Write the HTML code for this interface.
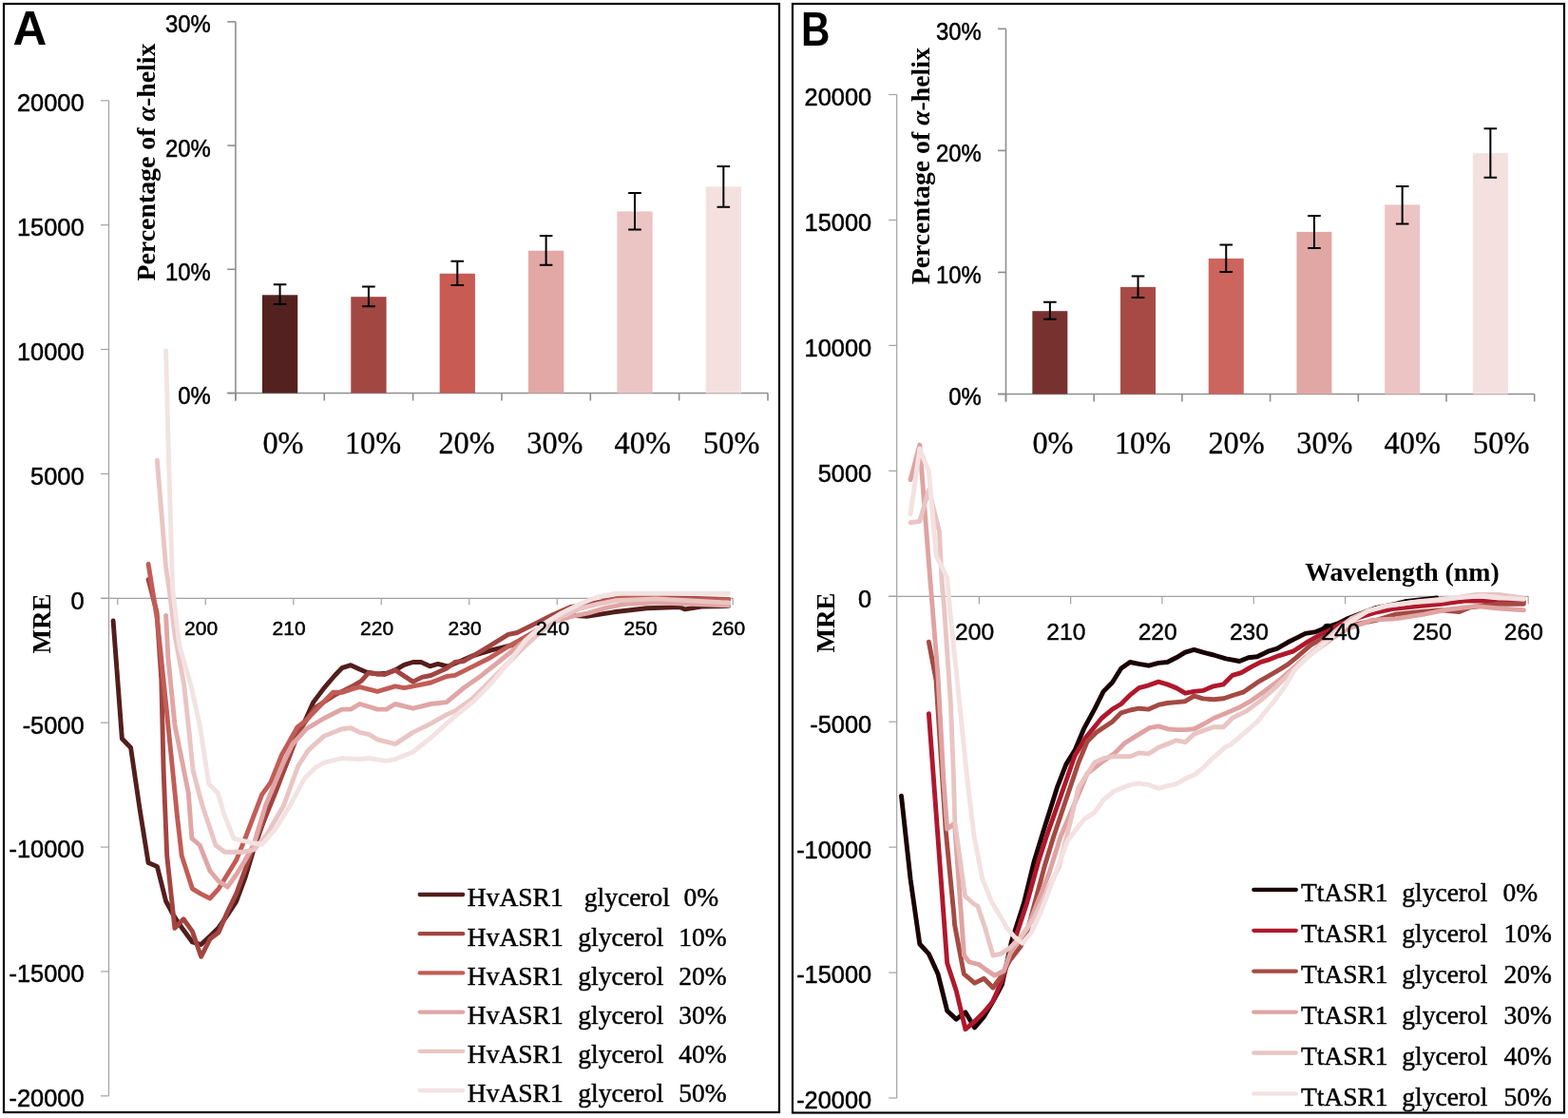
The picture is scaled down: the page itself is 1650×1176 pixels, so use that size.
<!DOCTYPE html><html><head><meta charset="utf-8"><title>CD spectra</title><style>html,body{margin:0;padding:0;background:#fff;}svg{display:block;}</style></head><body>
<svg width="1650" height="1176" viewBox="0 0 1650 1176">
<rect x="0" y="0" width="1650" height="1176" fill="#fff"/>
<rect x="4" y="4" width="816" height="1166" fill="none" stroke="#000" stroke-width="2.2"/>
<line x1="114.5" y1="105.8" x2="114.5" y2="1152.8" stroke="#a2a2a2" stroke-width="1.2"/>
<line x1="106" y1="105.8" x2="114.5" y2="105.8" stroke="#a2a2a2" stroke-width="1.2"/>
<line x1="106" y1="236.68" x2="114.5" y2="236.68" stroke="#a2a2a2" stroke-width="1.2"/>
<line x1="106" y1="367.55" x2="114.5" y2="367.55" stroke="#a2a2a2" stroke-width="1.2"/>
<line x1="106" y1="498.43" x2="114.5" y2="498.43" stroke="#a2a2a2" stroke-width="1.2"/>
<line x1="106" y1="629.3" x2="114.5" y2="629.3" stroke="#a2a2a2" stroke-width="1.2"/>
<line x1="106" y1="760.17" x2="114.5" y2="760.17" stroke="#a2a2a2" stroke-width="1.2"/>
<line x1="106" y1="891.05" x2="114.5" y2="891.05" stroke="#a2a2a2" stroke-width="1.2"/>
<line x1="106" y1="1021.92" x2="114.5" y2="1021.92" stroke="#a2a2a2" stroke-width="1.2"/>
<line x1="106" y1="1152.8" x2="114.5" y2="1152.8" stroke="#a2a2a2" stroke-width="1.2"/>
<line x1="106" y1="629.3" x2="771.25" y2="629.3" stroke="#a2a2a2" stroke-width="1.2"/>
<line x1="123.75" y1="629.3" x2="123.75" y2="636.3" stroke="#a2a2a2" stroke-width="1.2"/>
<line x1="216.25" y1="629.3" x2="216.25" y2="636.3" stroke="#a2a2a2" stroke-width="1.2"/>
<line x1="308.75" y1="629.3" x2="308.75" y2="636.3" stroke="#a2a2a2" stroke-width="1.2"/>
<line x1="401.25" y1="629.3" x2="401.25" y2="636.3" stroke="#a2a2a2" stroke-width="1.2"/>
<line x1="493.75" y1="629.3" x2="493.75" y2="636.3" stroke="#a2a2a2" stroke-width="1.2"/>
<line x1="586.25" y1="629.3" x2="586.25" y2="636.3" stroke="#a2a2a2" stroke-width="1.2"/>
<line x1="678.75" y1="629.3" x2="678.75" y2="636.3" stroke="#a2a2a2" stroke-width="1.2"/>
<line x1="771.25" y1="629.3" x2="771.25" y2="636.3" stroke="#a2a2a2" stroke-width="1.2"/>
<line x1="247.9" y1="22.9" x2="247.9" y2="421.5" stroke="#8e8e8e" stroke-width="1.6"/>
<line x1="239.3" y1="413.5" x2="808" y2="413.5" stroke="#8e8e8e" stroke-width="1.6"/>
<line x1="239.3" y1="22.9" x2="247.9" y2="22.9" stroke="#8e8e8e" stroke-width="1.6"/>
<line x1="239.3" y1="153.1" x2="247.9" y2="153.1" stroke="#8e8e8e" stroke-width="1.6"/>
<line x1="239.3" y1="283.3" x2="247.9" y2="283.3" stroke="#8e8e8e" stroke-width="1.6"/>
<line x1="239.3" y1="413.5" x2="247.9" y2="413.5" stroke="#8e8e8e" stroke-width="1.6"/>
<line x1="247.9" y1="413.5" x2="247.9" y2="421.5" stroke="#8e8e8e" stroke-width="1.6"/>
<line x1="341.25" y1="413.5" x2="341.25" y2="421.5" stroke="#8e8e8e" stroke-width="1.6"/>
<line x1="434.6" y1="413.5" x2="434.6" y2="421.5" stroke="#8e8e8e" stroke-width="1.6"/>
<line x1="527.95" y1="413.5" x2="527.95" y2="421.5" stroke="#8e8e8e" stroke-width="1.6"/>
<line x1="621.3" y1="413.5" x2="621.3" y2="421.5" stroke="#8e8e8e" stroke-width="1.6"/>
<line x1="714.65" y1="413.5" x2="714.65" y2="421.5" stroke="#8e8e8e" stroke-width="1.6"/>
<line x1="808" y1="413.5" x2="808" y2="421.5" stroke="#8e8e8e" stroke-width="1.6"/>
<rect x="275.93" y="310.3" width="37.3" height="103.2" fill="#532220"/>
<rect x="369.28" y="312.2" width="37.3" height="101.3" fill="#A34743"/>
<rect x="462.63" y="287.8" width="37.3" height="125.7" fill="#C85B54"/>
<rect x="555.98" y="263.7" width="37.3" height="149.8" fill="#E2A8A6"/>
<rect x="649.33" y="222.4" width="37.3" height="191.1" fill="#EBC5C4"/>
<rect x="742.68" y="196.3" width="37.3" height="217.2" fill="#F4E1DF"/>
<path d="M287.77 299.3H301.38M294.57 299.3V320M287.77 320H301.38" stroke="#000" stroke-width="2" fill="none"/>
<path d="M381.12 301.6H394.73M387.93 301.6V322.3M381.12 322.3H394.73" stroke="#000" stroke-width="2" fill="none"/>
<path d="M474.48 274.8H488.08M481.28 274.8V300M474.48 300H488.08" stroke="#000" stroke-width="2" fill="none"/>
<path d="M567.83 247.9H581.42M574.62 247.9V278.7M567.83 278.7H581.42" stroke="#000" stroke-width="2" fill="none"/>
<path d="M661.18 202.9H674.77M667.98 202.9V241.5M661.18 241.5H674.77" stroke="#000" stroke-width="2" fill="none"/>
<path d="M754.53 174.9H768.12M761.33 174.9V217.8M754.53 217.8H768.12" stroke="#000" stroke-width="2" fill="none"/>
<path d="M119.1 653 L128.4 777 L137.6 786.5 L146.9 850 L156.1 907.6 L165.4 911.4 L174.6 948 L183.9 965 L193.1 978.3 L202.4 991 L211.6 993.6 L220.9 984.7 L230.1 975.7 L239.4 962.3 L248.6 948.3 L257.9 923.5 L267.1 893 L288.7 832.2 L301.8 802.2 L311.1 777.9 L320.5 759.2 L329.8 738.6 L341.1 723.6 L352.3 710.5 L359.8 702.7 L369.1 699.7 L378.5 704 L386 707.2 L397.2 709 L406.6 708.3 L415.9 704.9 L425.3 699.3 L434.6 696.5 L443.1 696.5 L452.4 700.8 L460.8 698.4 L471.2 701 L484.3 695.5 L497.4 689.8 L516.1 684.2 L538.6 678.6 L548 673 L564.8 663.6 L572.3 656.1 L581.7 650.5 L594.8 646.8 L617.3 648.4 L646 643.8 L680.6 639.7 L715.2 638.6 L720.9 640.9 L738.2 638 L766.6 637.4" fill="none" stroke="#521E1C" stroke-width="4.9" stroke-linejoin="round" stroke-linecap="round"/>
<path d="M156.1 609.6 L165 643.8 L169.8 715.2 L172.1 810.5 L175.7 900 L183.9 976.4 L193.1 966.8 L202.4 979.6 L211.6 1006.3 L220.9 987.8 L230.1 980.8 L239.4 959 L248.6 940 L270.9 880 L290.5 832 L314.9 768.6 L331.7 744.2 L352.3 731.1 L371 721.8 L380.4 716.1 L387.9 707.7 L404.7 709.6 L415.9 704.9 L434.6 717.1 L444 712.4 L453.4 710.5 L470 703 L478.7 696.4 L488.1 695.5 L510.5 682.4 L534.9 667.4 L544.2 665.5 L562.9 656.1 L581.7 646.8 L600.4 638.4 L619.1 635.6 L647.2 629.9 L665.9 628.1 L690 628.1 L766.6 630.5" fill="none" stroke="#A24542" stroke-width="4.9" stroke-linejoin="round" stroke-linecap="round"/>
<path d="M156.1 593.3 L165.4 651.4 L174.5 739 L181.7 810.5 L186.4 858.1 L191.2 900 L202.4 934.8 L211.6 940.4 L220.9 945 L230.1 934.8 L239.4 919.8 L248.6 904.8 L258.7 880 L275.6 835.9 L284.9 822.8 L296.1 794.8 L313 764.8 L322.4 757.3 L350.4 728.3 L359.8 728.3 L371 724.6 L378.5 722.7 L397.2 727.4 L415.9 721.8 L425.3 723.6 L434.6 721.8 L453.4 718 L470 711.5 L478.7 710.4 L497.4 701.1 L516.1 691.7 L534.9 680 L553.6 670 L572.3 658 L591 648 L609.7 640 L628.4 635 L657.6 627.6 L680.6 627.6 L703.6 630 L749.7 631.1 L766.6 630.5" fill="none" stroke="#C25C56" stroke-width="4.9" stroke-linejoin="round" stroke-linecap="round"/>
<path d="M174.6 647.5 L176.9 691.4 L184 762.9 L191.2 798.6 L198.3 834.3 L201.9 881.9 L210.2 889 L220.9 916 L230.1 927 L239.4 933 L248.6 920 L257.9 905 L267.1 888 L279.5 847 L298.3 802.2 L307.4 783.5 L322.4 766.7 L341.1 755.5 L359.8 746.1 L369.1 746.1 L378.5 740.5 L397.2 746.1 L406.6 746.1 L415.9 740.5 L434.6 745.2 L453.4 740.5 L470 738.6 L488.1 723.5 L506.8 710.4 L525.5 695.5 L544.2 680.5 L562.9 665.5 L581.7 654.3 L600.4 648.7 L619.1 644.9 L637.8 639.3 L656.5 635.6 L690 633.7 L766.6 636.8" fill="none" stroke="#E0A6A5" stroke-width="4.9" stroke-linejoin="round" stroke-linecap="round"/>
<path d="M165.4 484.2 L174.6 597 L178.1 620 L184 667.6 L193.6 720 L198.3 762.9 L203.1 810.5 L212.6 846.2 L226.9 889 L236.4 896.2 L255.5 896.2 L267.5 893.6 L280.5 878 L298.6 847.2 L313.6 806 L324.4 789.1 L341.1 774.2 L359.8 766.7 L369.1 765.7 L378.5 770.4 L387.9 772.3 L397.2 777.9 L415.9 782.6 L434.6 770.4 L453.4 761.1 L470 751.7 L478.7 747.9 L497.4 734.8 L516.1 716 L534.9 697.3 L553.6 678.6 L572.3 661.8 L591 648.7 L609.7 640.2 L628.4 635.6 L647.2 631.8 L690 629.9 L766.6 634" fill="none" stroke="#E9C5C3" stroke-width="4.9" stroke-linejoin="round" stroke-linecap="round"/>
<path d="M174.6 369 L177.6 487.6 L181.7 620 L188.8 679.5 L200.7 720 L210.2 762.9 L219.8 824.8 L229.3 834.3 L236.4 858.1 L246 881.9 L265 886.7 L276 888 L290.5 871.1 L305.5 846.8 L320.5 818.7 L332.5 807 L341.1 802.2 L359.8 797.6 L378.5 798.5 L387.9 797.6 L406.6 800.4 L415.9 798.5 L434.6 791 L453.4 776 L470 761.1 L478.7 753.5 L497.4 738.5 L516.1 719.8 L534.9 697.3 L553.6 673 L572.3 656.1 L591 644.9 L609.7 635.6 L628.4 628.1 L647.2 624.3 L690 624.3 L766.6 624.2" fill="none" stroke="#F2E3E2" stroke-width="4.9" stroke-linejoin="round" stroke-linecap="round"/>
<line x1="441.7" y1="941" x2="487.20000000000005" y2="941" stroke="#521E1C" stroke-width="4.3" stroke-linecap="round"/>
<line x1="441.7" y1="982.2" x2="487.20000000000005" y2="982.2" stroke="#A24542" stroke-width="4.3" stroke-linecap="round"/>
<line x1="441.7" y1="1023.4" x2="487.20000000000005" y2="1023.4" stroke="#C25C56" stroke-width="4.3" stroke-linecap="round"/>
<line x1="441.7" y1="1064.6" x2="487.20000000000005" y2="1064.6" stroke="#E0A6A5" stroke-width="4.3" stroke-linecap="round"/>
<line x1="441.7" y1="1105.8" x2="487.20000000000005" y2="1105.8" stroke="#E9C5C3" stroke-width="4.3" stroke-linecap="round"/>
<line x1="441.7" y1="1147" x2="487.20000000000005" y2="1147" stroke="#F2E3E2" stroke-width="4.3" stroke-linecap="round"/>
<rect x="834" y="4" width="812" height="1166.5" fill="none" stroke="#000" stroke-width="2.2"/>
<line x1="943.7" y1="99.5" x2="943.7" y2="1155" stroke="#a2a2a2" stroke-width="1.2"/>
<line x1="935.3" y1="99.5" x2="943.7" y2="99.5" stroke="#a2a2a2" stroke-width="1.2"/>
<line x1="935.3" y1="231.44" x2="943.7" y2="231.44" stroke="#a2a2a2" stroke-width="1.2"/>
<line x1="935.3" y1="363.38" x2="943.7" y2="363.38" stroke="#a2a2a2" stroke-width="1.2"/>
<line x1="935.3" y1="495.31" x2="943.7" y2="495.31" stroke="#a2a2a2" stroke-width="1.2"/>
<line x1="935.3" y1="627.25" x2="943.7" y2="627.25" stroke="#a2a2a2" stroke-width="1.2"/>
<line x1="935.3" y1="759.19" x2="943.7" y2="759.19" stroke="#a2a2a2" stroke-width="1.2"/>
<line x1="935.3" y1="891.12" x2="943.7" y2="891.12" stroke="#a2a2a2" stroke-width="1.2"/>
<line x1="935.3" y1="1023.06" x2="943.7" y2="1023.06" stroke="#a2a2a2" stroke-width="1.2"/>
<line x1="935.3" y1="1155" x2="943.7" y2="1155" stroke="#a2a2a2" stroke-width="1.2"/>
<line x1="935.3" y1="627.3" x2="1608.17" y2="627.3" stroke="#a2a2a2" stroke-width="1.2"/>
<line x1="1030.37" y1="627.3" x2="1030.37" y2="635.3" stroke="#a2a2a2" stroke-width="1.2"/>
<line x1="1126.67" y1="627.3" x2="1126.67" y2="635.3" stroke="#a2a2a2" stroke-width="1.2"/>
<line x1="1222.97" y1="627.3" x2="1222.97" y2="635.3" stroke="#a2a2a2" stroke-width="1.2"/>
<line x1="1319.27" y1="627.3" x2="1319.27" y2="635.3" stroke="#a2a2a2" stroke-width="1.2"/>
<line x1="1415.57" y1="627.3" x2="1415.57" y2="635.3" stroke="#a2a2a2" stroke-width="1.2"/>
<line x1="1511.87" y1="627.3" x2="1511.87" y2="635.3" stroke="#a2a2a2" stroke-width="1.2"/>
<line x1="1608.17" y1="627.3" x2="1608.17" y2="635.3" stroke="#a2a2a2" stroke-width="1.2"/>
<line x1="1058.5" y1="30.3" x2="1058.5" y2="422.5" stroke="#8e8e8e" stroke-width="1.6"/>
<line x1="1050" y1="414.5" x2="1614.7" y2="414.5" stroke="#8e8e8e" stroke-width="1.6"/>
<line x1="1050" y1="30.3" x2="1058.5" y2="30.3" stroke="#8e8e8e" stroke-width="1.6"/>
<line x1="1050" y1="158.37" x2="1058.5" y2="158.37" stroke="#8e8e8e" stroke-width="1.6"/>
<line x1="1050" y1="286.43" x2="1058.5" y2="286.43" stroke="#8e8e8e" stroke-width="1.6"/>
<line x1="1050" y1="414.5" x2="1058.5" y2="414.5" stroke="#8e8e8e" stroke-width="1.6"/>
<line x1="1058.5" y1="414.5" x2="1058.5" y2="422.5" stroke="#8e8e8e" stroke-width="1.6"/>
<line x1="1151.2" y1="414.5" x2="1151.2" y2="422.5" stroke="#8e8e8e" stroke-width="1.6"/>
<line x1="1243.9" y1="414.5" x2="1243.9" y2="422.5" stroke="#8e8e8e" stroke-width="1.6"/>
<line x1="1336.6" y1="414.5" x2="1336.6" y2="422.5" stroke="#8e8e8e" stroke-width="1.6"/>
<line x1="1429.3" y1="414.5" x2="1429.3" y2="422.5" stroke="#8e8e8e" stroke-width="1.6"/>
<line x1="1522" y1="414.5" x2="1522" y2="422.5" stroke="#8e8e8e" stroke-width="1.6"/>
<line x1="1614.7" y1="414.5" x2="1614.7" y2="422.5" stroke="#8e8e8e" stroke-width="1.6"/>
<rect x="1086.35" y="327.2" width="37" height="87.3" fill="#773230"/>
<rect x="1179.05" y="301.9" width="37" height="112.6" fill="#A74A45"/>
<rect x="1271.75" y="271.9" width="37" height="142.6" fill="#CC655E"/>
<rect x="1364.45" y="243.9" width="37" height="170.6" fill="#E0A7A5"/>
<rect x="1457.15" y="215.4" width="37" height="199.1" fill="#EBC4C3"/>
<rect x="1549.85" y="161.1" width="37" height="253.4" fill="#F4E0DF"/>
<path d="M1098.05 317.7H1111.65M1104.85 317.7V335.7M1098.05 335.7H1111.65" stroke="#000" stroke-width="2" fill="none"/>
<path d="M1190.75 290.6H1204.35M1197.55 290.6V313M1190.75 313H1204.35" stroke="#000" stroke-width="2" fill="none"/>
<path d="M1283.45 257.6H1297.05M1290.25 257.6V286.1M1283.45 286.1H1297.05" stroke="#000" stroke-width="2" fill="none"/>
<path d="M1376.15 227H1389.75M1382.95 227V261M1376.15 261H1389.75" stroke="#000" stroke-width="2" fill="none"/>
<path d="M1468.85 195.9H1482.45M1475.65 195.9V235.4M1468.85 235.4H1482.45" stroke="#000" stroke-width="2" fill="none"/>
<path d="M1561.55 135.3H1575.15M1568.35 135.3V186.7M1561.55 186.7H1575.15" stroke="#000" stroke-width="2" fill="none"/>
<path d="M948.5 837.3 L958.1 925 L967.8 993 L977.4 1003.4 L987 1024.4 L996.7 1063.2 L1006.3 1072.1 L1015.9 1064.8 L1025.6 1081 L1035.2 1069.7 L1044.8 1053.5 L1054.4 1035.8 L1064.4 990.5 L1077.4 950 L1088.3 905.7 L1097.4 876 L1112.4 828.4 L1121.8 804.1 L1131.1 789.1 L1140.5 766.7 L1151.7 746.1 L1161.1 727.4 L1170.4 718 L1179.8 703 L1189.1 696.5 L1198.5 698.4 L1208.8 700.2 L1219.1 697.4 L1228.4 696.5 L1237.8 691.8 L1247.2 686.2 L1256.5 683.4 L1265.9 686.2 L1277.1 689 L1290 692.8 L1304.3 695.5 L1313.7 691.7 L1323 690.8 L1334.3 685.2 L1343.6 682.4 L1354.9 675.8 L1364.2 671.1 L1373.6 666.4 L1384.8 664.6 L1396 659.9 L1407.3 656.1 L1418.5 650.5 L1448.4 639.3 L1467.2 635.6 L1478.4 632.8 L1512 629" fill="none" stroke="#1A0203" stroke-width="4.9" stroke-linejoin="round" stroke-linecap="round"/>
<path d="M977.4 750.6 L996.7 1013.1 L1006.3 1042.2 L1015.9 1082.6 L1025.6 1074.5 L1035.2 1064.8 L1044.8 1053.5 L1054.4 1030.9 L1069.9 982.3 L1080.6 950 L1092.9 905.7 L1101.2 880 L1116.1 837.8 L1131.1 794.8 L1142.4 776 L1159.2 755.5 L1170.4 746.1 L1179.8 740.5 L1189.1 731.1 L1198.5 723.6 L1208.8 720.8 L1219.1 717.1 L1228.4 719.9 L1237.8 723.6 L1247.2 729.2 L1256.5 727.4 L1265.9 726.4 L1277.1 721.8 L1287.5 719.8 L1296.8 710.4 L1306.2 707.6 L1317.4 701.1 L1326.8 696.4 L1336.1 693.6 L1345.5 689.8 L1360.5 685.2 L1373.6 676.7 L1384.8 670.2 L1396 664.6 L1411 656.1 L1429.7 649.6 L1448.4 644 L1467.2 640.2 L1492.7 637.6 L1517 635.2 L1541.2 632.1 L1559.4 632.1 L1577.6 633.9 L1603.4 632.7" fill="none" stroke="#B0182C" stroke-width="4.9" stroke-linejoin="round" stroke-linecap="round"/>
<path d="M977.4 675.2 L985 715.2 L991.7 820 L995.2 873.6 L1003.6 960 L1004.6 972.7 L1014.3 1024.4 L1025.7 1034.1 L1035.4 1029.3 L1045 1039 L1053.1 1027.7 L1062.8 1009.9 L1074.1 995.4 L1080.6 980.8 L1099 911.8 L1108.7 880 L1134.9 802.2 L1144.2 779.8 L1153.6 770.4 L1170.4 759.2 L1179.8 749.8 L1189.1 747 L1198.5 745.2 L1208.8 746.1 L1219.1 741.4 L1228.4 739.5 L1237.8 738.6 L1247.2 737.7 L1256.5 732.1 L1265.9 734.9 L1277.1 735.8 L1287.5 734.8 L1298.7 731 L1308.1 728.2 L1323 717.9 L1336.1 710.4 L1345.5 704.8 L1354.9 699.2 L1364.2 691.7 L1379.2 678.6 L1392.3 671.1 L1411 661.8 L1429.7 656.1 L1448.4 652.4 L1468.5 646.1 L1492.7 643.6 L1517 641.8 L1535.2 643.6 L1547.3 638.8 L1577.6 635.2 L1603.4 635.2" fill="none" stroke="#A44A43" stroke-width="4.9" stroke-linejoin="round" stroke-linecap="round"/>
<path d="M958.1 504.6 L967.8 468 L977.4 592 L987 711 L992.9 820 L996.7 872 L1004.5 866 L1014.5 1005 L1020 1012 L1030.5 1014.7 L1037 1019.6 L1046.7 1026.1 L1056.4 1021.2 L1062.8 1003.4 L1070.9 990.5 L1080.6 977.6 L1103.6 919.5 L1116.1 880 L1144.2 813.5 L1161.1 800.4 L1172.3 792.9 L1183.5 781.7 L1198.5 772.3 L1209.7 765.7 L1219.1 763.9 L1228.4 766.7 L1237.8 767.6 L1247.2 767.6 L1256.5 766.7 L1265.9 762 L1277.1 755.5 L1291.2 749.7 L1304.3 744.1 L1317.4 736.6 L1330.5 727.3 L1345.5 716 L1358.6 704.8 L1373.6 691.7 L1386.7 682.4 L1399.8 673 L1411 665.5 L1420 660.6 L1444.2 652.1 L1468.5 650.9 L1498.8 646.1 L1523 641.2 L1553.3 637.6 L1577.6 640 L1603.4 641.8" fill="none" stroke="#DFA3A2" stroke-width="4.9" stroke-linejoin="round" stroke-linecap="round"/>
<path d="M958.1 549.7 L967.8 548.4 L977.4 515.3 L988.5 559 L991 610 L993.6 640 L1000.4 740 L1003.6 820 L1004.8 865 L1015.5 942.6 L1025 951 L1028.9 953.3 L1037 977.6 L1045 1005 L1053.1 1003.4 L1062.8 997 L1074.1 985.7 L1088.3 965.4 L1114.3 911.8 L1125 870 L1134.9 828.4 L1151.7 802.2 L1161.1 797.6 L1172.3 795.7 L1189.1 795.7 L1198.5 791.9 L1208.8 792.9 L1219.1 786.3 L1228.4 782.6 L1237.8 778.8 L1247.2 780.7 L1256.5 772.3 L1265.9 768.6 L1277.1 764.8 L1287.5 764.7 L1296.8 755.3 L1311.8 747.9 L1326.8 736.6 L1341.8 723.5 L1358.6 706.7 L1388.6 678.6 L1403.5 665.5 L1422.2 650.5 L1441 642.1 L1459.7 637.4 L1485.9 633.7 L1517 631.5 L1553.3 625.5 L1577.6 625.5 L1603.4 629.1" fill="none" stroke="#E8C5C3" stroke-width="4.9" stroke-linejoin="round" stroke-linecap="round"/>
<path d="M958.1 540.8 L967.8 472 L977.4 496 L985.1 584.6 L996.7 607.5 L999.5 640 L1009.7 740 L1017.9 820 L1025 879.5 L1033.7 924.2 L1043.4 948.5 L1053.1 964.6 L1059.6 976 L1067.7 985.7 L1075.8 992.1 L1085.5 980.8 L1095.9 957.8 L1123.5 884.3 L1140.5 862.1 L1151.7 854.6 L1161.1 841.5 L1172.3 832.2 L1189.1 825.6 L1198.5 823.8 L1208.8 825.6 L1219.1 829.4 L1228.4 826.6 L1237.8 824.7 L1247.2 819.1 L1256.5 815.3 L1265.9 807.9 L1277.1 796.6 L1290 785.4 L1295 783.4 L1308.1 772.2 L1323 759.1 L1339.9 738.5 L1351.1 723.5 L1362.4 704.8 L1373.6 693.6 L1386.7 682.4 L1420.4 654.3 L1439.1 643 L1457.8 637.4 L1492.7 632.7 L1529.1 629.1 L1559.4 626.7 L1583.6 629.1 L1603.4 630.3" fill="none" stroke="#F3E2E1" stroke-width="4.9" stroke-linejoin="round" stroke-linecap="round"/>
<line x1="1319.3000000000002" y1="935.9" x2="1363.8" y2="935.9" stroke="#1A0203" stroke-width="4.3" stroke-linecap="round"/>
<line x1="1319.3000000000002" y1="978.8" x2="1363.8" y2="978.8" stroke="#B0182C" stroke-width="4.3" stroke-linecap="round"/>
<line x1="1319.3000000000002" y1="1021.7" x2="1363.8" y2="1021.7" stroke="#A44A43" stroke-width="4.3" stroke-linecap="round"/>
<line x1="1319.3000000000002" y1="1064.6" x2="1363.8" y2="1064.6" stroke="#DFA3A2" stroke-width="4.3" stroke-linecap="round"/>
<line x1="1319.3000000000002" y1="1107.5" x2="1363.8" y2="1107.5" stroke="#E8C5C3" stroke-width="4.3" stroke-linecap="round"/>
<line x1="1319.3000000000002" y1="1150.4" x2="1363.8" y2="1150.4" stroke="#F3E2E1" stroke-width="4.3" stroke-linecap="round"/>
<text x="13.5" y="46.7" font-family="'Liberation Sans', Arial, sans-serif" font-weight="bold" font-size="49.5">A</text>
<text x="88.6" y="117.19" text-anchor="end" font-family="'Liberation Sans', Arial, sans-serif" font-size="25.4" stroke="#000" stroke-width="0.5">20000</text>
<text x="88.6" y="248.07" text-anchor="end" font-family="'Liberation Sans', Arial, sans-serif" font-size="25.4" stroke="#000" stroke-width="0.5">15000</text>
<text x="88.6" y="378.94" text-anchor="end" font-family="'Liberation Sans', Arial, sans-serif" font-size="25.4" stroke="#000" stroke-width="0.5">10000</text>
<text x="88.6" y="509.82" text-anchor="end" font-family="'Liberation Sans', Arial, sans-serif" font-size="25.4" stroke="#000" stroke-width="0.5">5000</text>
<text x="88.6" y="640.69" text-anchor="end" font-family="'Liberation Sans', Arial, sans-serif" font-size="25.4" stroke="#000" stroke-width="0.5">0</text>
<text x="88.6" y="771.57" text-anchor="end" font-family="'Liberation Sans', Arial, sans-serif" font-size="25.4" stroke="#000" stroke-width="0.5">-5000</text>
<text x="88.6" y="902.44" text-anchor="end" font-family="'Liberation Sans', Arial, sans-serif" font-size="25.4" stroke="#000" stroke-width="0.5">-10000</text>
<text x="88.6" y="1033.32" text-anchor="end" font-family="'Liberation Sans', Arial, sans-serif" font-size="25.4" stroke="#000" stroke-width="0.5">-15000</text>
<text x="88.6" y="1164.19" text-anchor="end" font-family="'Liberation Sans', Arial, sans-serif" font-size="25.4" stroke="#000" stroke-width="0.5">-20000</text>
<text x="211.62" y="667.5" text-anchor="middle" font-family="'Liberation Sans', Arial, sans-serif" font-size="21" stroke="#000" stroke-width="0.45">200</text>
<text x="304.12" y="667.5" text-anchor="middle" font-family="'Liberation Sans', Arial, sans-serif" font-size="21" stroke="#000" stroke-width="0.45">210</text>
<text x="396.62" y="667.5" text-anchor="middle" font-family="'Liberation Sans', Arial, sans-serif" font-size="21" stroke="#000" stroke-width="0.45">220</text>
<text x="489.12" y="667.5" text-anchor="middle" font-family="'Liberation Sans', Arial, sans-serif" font-size="21" stroke="#000" stroke-width="0.45">230</text>
<text x="581.62" y="667.5" text-anchor="middle" font-family="'Liberation Sans', Arial, sans-serif" font-size="21" stroke="#000" stroke-width="0.45">240</text>
<text x="674.12" y="667.5" text-anchor="middle" font-family="'Liberation Sans', Arial, sans-serif" font-size="21" stroke="#000" stroke-width="0.45">250</text>
<text x="766.62" y="667.5" text-anchor="middle" font-family="'Liberation Sans', Arial, sans-serif" font-size="21" stroke="#000" stroke-width="0.45">260</text>
<text transform="translate(53,656) rotate(-90)" text-anchor="middle" font-family="'Liberation Serif', 'Times New Roman', serif" font-weight="bold" font-size="27">MRE</text>
<text transform="translate(221.7,34.35) scale(0.955,1)" text-anchor="end" font-family="'Liberation Sans', Arial, sans-serif" font-size="25" stroke="#000" stroke-width="0.5">30%</text>
<text transform="translate(221.7,164.55) scale(0.955,1)" text-anchor="end" font-family="'Liberation Sans', Arial, sans-serif" font-size="25" stroke="#000" stroke-width="0.5">20%</text>
<text transform="translate(221.7,294.75) scale(0.955,1)" text-anchor="end" font-family="'Liberation Sans', Arial, sans-serif" font-size="25" stroke="#000" stroke-width="0.5">10%</text>
<text transform="translate(221.7,424.95) scale(0.955,1)" text-anchor="end" font-family="'Liberation Sans', Arial, sans-serif" font-size="25" stroke="#000" stroke-width="0.5">0%</text>
<text transform="translate(276.4,476.5) scale(0.965,1)" font-family="'Liberation Serif', 'Times New Roman', serif" font-size="33.5" stroke="#000" stroke-width="0.35">0%</text>
<text transform="translate(362.9,476.5) scale(0.965,1)" font-family="'Liberation Serif', 'Times New Roman', serif" font-size="33.5" stroke="#000" stroke-width="0.35">10%</text>
<text transform="translate(461.4,476.5) scale(0.965,1)" font-family="'Liberation Serif', 'Times New Roman', serif" font-size="33.5" stroke="#000" stroke-width="0.35">20%</text>
<text transform="translate(554.3,476.5) scale(0.965,1)" font-family="'Liberation Serif', 'Times New Roman', serif" font-size="33.5" stroke="#000" stroke-width="0.35">30%</text>
<text transform="translate(646.6,476.5) scale(0.965,1)" font-family="'Liberation Serif', 'Times New Roman', serif" font-size="33.5" stroke="#000" stroke-width="0.35">40%</text>
<text transform="translate(740.1,476.5) scale(0.965,1)" font-family="'Liberation Serif', 'Times New Roman', serif" font-size="33.5" stroke="#000" stroke-width="0.35">50%</text>
<text transform="translate(162.9,295.5) rotate(-90)" font-family="'Liberation Serif', 'Times New Roman', serif" font-weight="bold" font-size="27.5" textLength="249.9" lengthAdjust="spacingAndGlyphs">Percentage of <tspan font-style="italic">α</tspan>-helix</text>
<text x="491.8" y="953.4" font-family="'Liberation Serif', 'Times New Roman', serif" font-size="27.5" stroke="#000" stroke-width="0.45">HvASR1</text>
<text x="614.8" y="953.4" font-family="'Liberation Serif', 'Times New Roman', serif" font-size="27.5" stroke="#000" stroke-width="0.45">glycerol</text>
<text x="719.6" y="953.4" font-family="'Liberation Serif', 'Times New Roman', serif" font-size="27.5" stroke="#000" stroke-width="0.45">0%</text>
<text x="491.8" y="994.6" font-family="'Liberation Serif', 'Times New Roman', serif" font-size="27.5" stroke="#000" stroke-width="0.45">HvASR1</text>
<text x="608.3" y="994.6" font-family="'Liberation Serif', 'Times New Roman', serif" font-size="27.5" stroke="#000" stroke-width="0.45">glycerol</text>
<text x="714.3" y="994.6" font-family="'Liberation Serif', 'Times New Roman', serif" font-size="27.5" stroke="#000" stroke-width="0.45">10%</text>
<text x="491.8" y="1035.8" font-family="'Liberation Serif', 'Times New Roman', serif" font-size="27.5" stroke="#000" stroke-width="0.45">HvASR1</text>
<text x="608.3" y="1035.8" font-family="'Liberation Serif', 'Times New Roman', serif" font-size="27.5" stroke="#000" stroke-width="0.45">glycerol</text>
<text x="714.3" y="1035.8" font-family="'Liberation Serif', 'Times New Roman', serif" font-size="27.5" stroke="#000" stroke-width="0.45">20%</text>
<text x="491.8" y="1077" font-family="'Liberation Serif', 'Times New Roman', serif" font-size="27.5" stroke="#000" stroke-width="0.45">HvASR1</text>
<text x="608.3" y="1077" font-family="'Liberation Serif', 'Times New Roman', serif" font-size="27.5" stroke="#000" stroke-width="0.45">glycerol</text>
<text x="714.3" y="1077" font-family="'Liberation Serif', 'Times New Roman', serif" font-size="27.5" stroke="#000" stroke-width="0.45">30%</text>
<text x="491.8" y="1118.2" font-family="'Liberation Serif', 'Times New Roman', serif" font-size="27.5" stroke="#000" stroke-width="0.45">HvASR1</text>
<text x="608.3" y="1118.2" font-family="'Liberation Serif', 'Times New Roman', serif" font-size="27.5" stroke="#000" stroke-width="0.45">glycerol</text>
<text x="714.3" y="1118.2" font-family="'Liberation Serif', 'Times New Roman', serif" font-size="27.5" stroke="#000" stroke-width="0.45">40%</text>
<text x="491.8" y="1159.4" font-family="'Liberation Serif', 'Times New Roman', serif" font-size="27.5" stroke="#000" stroke-width="0.45">HvASR1</text>
<text x="608.3" y="1159.4" font-family="'Liberation Serif', 'Times New Roman', serif" font-size="27.5" stroke="#000" stroke-width="0.45">glycerol</text>
<text x="714.3" y="1159.4" font-family="'Liberation Serif', 'Times New Roman', serif" font-size="27.5" stroke="#000" stroke-width="0.45">50%</text>
<text transform="translate(843.1,47.6) scale(0.85,1)" font-family="'Liberation Sans', Arial, sans-serif" font-weight="bold" font-size="49.5">B</text>
<text x="917.2" y="110.89" text-anchor="end" font-family="'Liberation Sans', Arial, sans-serif" font-size="25.4" stroke="#000" stroke-width="0.5">20000</text>
<text x="917.2" y="242.83" text-anchor="end" font-family="'Liberation Sans', Arial, sans-serif" font-size="25.4" stroke="#000" stroke-width="0.5">15000</text>
<text x="917.2" y="374.77" text-anchor="end" font-family="'Liberation Sans', Arial, sans-serif" font-size="25.4" stroke="#000" stroke-width="0.5">10000</text>
<text x="917.2" y="506.71" text-anchor="end" font-family="'Liberation Sans', Arial, sans-serif" font-size="25.4" stroke="#000" stroke-width="0.5">5000</text>
<text x="917.2" y="638.64" text-anchor="end" font-family="'Liberation Sans', Arial, sans-serif" font-size="25.4" stroke="#000" stroke-width="0.5">0</text>
<text x="917.2" y="770.58" text-anchor="end" font-family="'Liberation Sans', Arial, sans-serif" font-size="25.4" stroke="#000" stroke-width="0.5">-5000</text>
<text x="917.2" y="902.52" text-anchor="end" font-family="'Liberation Sans', Arial, sans-serif" font-size="25.4" stroke="#000" stroke-width="0.5">-10000</text>
<text x="917.2" y="1034.46" text-anchor="end" font-family="'Liberation Sans', Arial, sans-serif" font-size="25.4" stroke="#000" stroke-width="0.5">-15000</text>
<text x="917.2" y="1166.39" text-anchor="end" font-family="'Liberation Sans', Arial, sans-serif" font-size="25.4" stroke="#000" stroke-width="0.5">-20000</text>
<text x="1025.56" y="672.7" text-anchor="middle" font-family="'Liberation Sans', Arial, sans-serif" font-size="24.6" stroke="#000" stroke-width="0.45">200</text>
<text x="1121.86" y="672.7" text-anchor="middle" font-family="'Liberation Sans', Arial, sans-serif" font-size="24.6" stroke="#000" stroke-width="0.45">210</text>
<text x="1218.16" y="672.7" text-anchor="middle" font-family="'Liberation Sans', Arial, sans-serif" font-size="24.6" stroke="#000" stroke-width="0.45">220</text>
<text x="1314.46" y="672.7" text-anchor="middle" font-family="'Liberation Sans', Arial, sans-serif" font-size="24.6" stroke="#000" stroke-width="0.45">230</text>
<text x="1410.76" y="672.7" text-anchor="middle" font-family="'Liberation Sans', Arial, sans-serif" font-size="24.6" stroke="#000" stroke-width="0.45">240</text>
<text x="1507.06" y="672.7" text-anchor="middle" font-family="'Liberation Sans', Arial, sans-serif" font-size="24.6" stroke="#000" stroke-width="0.45">250</text>
<text x="1603.36" y="672.7" text-anchor="middle" font-family="'Liberation Sans', Arial, sans-serif" font-size="24.6" stroke="#000" stroke-width="0.45">260</text>
<text transform="translate(878,655) rotate(-90)" text-anchor="middle" font-family="'Liberation Serif', 'Times New Roman', serif" font-weight="bold" font-size="27">MRE</text>
<text transform="translate(1032.7,41.75) scale(0.955,1)" text-anchor="end" font-family="'Liberation Sans', Arial, sans-serif" font-size="25" stroke="#000" stroke-width="0.5">30%</text>
<text transform="translate(1032.7,169.82) scale(0.955,1)" text-anchor="end" font-family="'Liberation Sans', Arial, sans-serif" font-size="25" stroke="#000" stroke-width="0.5">20%</text>
<text transform="translate(1032.7,297.88) scale(0.955,1)" text-anchor="end" font-family="'Liberation Sans', Arial, sans-serif" font-size="25" stroke="#000" stroke-width="0.5">10%</text>
<text transform="translate(1032.7,425.95) scale(0.955,1)" text-anchor="end" font-family="'Liberation Sans', Arial, sans-serif" font-size="25" stroke="#000" stroke-width="0.5">0%</text>
<text transform="translate(1086.4,476.5) scale(0.965,1)" font-family="'Liberation Serif', 'Times New Roman', serif" font-size="33.5" stroke="#000" stroke-width="0.35">0%</text>
<text transform="translate(1172.9,476.5) scale(0.965,1)" font-family="'Liberation Serif', 'Times New Roman', serif" font-size="33.5" stroke="#000" stroke-width="0.35">10%</text>
<text transform="translate(1271.4,476.5) scale(0.965,1)" font-family="'Liberation Serif', 'Times New Roman', serif" font-size="33.5" stroke="#000" stroke-width="0.35">20%</text>
<text transform="translate(1364.3,476.5) scale(0.965,1)" font-family="'Liberation Serif', 'Times New Roman', serif" font-size="33.5" stroke="#000" stroke-width="0.35">30%</text>
<text transform="translate(1456.6,476.5) scale(0.965,1)" font-family="'Liberation Serif', 'Times New Roman', serif" font-size="33.5" stroke="#000" stroke-width="0.35">40%</text>
<text transform="translate(1550.1,476.5) scale(0.965,1)" font-family="'Liberation Serif', 'Times New Roman', serif" font-size="33.5" stroke="#000" stroke-width="0.35">50%</text>
<text transform="translate(977.9,299.3) rotate(-90)" font-family="'Liberation Serif', 'Times New Roman', serif" font-weight="bold" font-size="27.5" textLength="249.1" lengthAdjust="spacingAndGlyphs">Percentage of <tspan font-style="italic">α</tspan>-helix</text>
<text x="1368.9" y="948.3" font-family="'Liberation Serif', 'Times New Roman', serif" font-size="27.5" stroke="#000" stroke-width="0.45">TtASR1</text>
<text x="1475.3" y="948.3" font-family="'Liberation Serif', 'Times New Roman', serif" font-size="27.5" stroke="#000" stroke-width="0.45">glycerol</text>
<text x="1581.4" y="948.3" font-family="'Liberation Serif', 'Times New Roman', serif" font-size="27.5" stroke="#000" stroke-width="0.45">0%</text>
<text x="1368.9" y="991.2" font-family="'Liberation Serif', 'Times New Roman', serif" font-size="27.5" stroke="#000" stroke-width="0.45">TtASR1</text>
<text x="1475.3" y="991.2" font-family="'Liberation Serif', 'Times New Roman', serif" font-size="27.5" stroke="#000" stroke-width="0.45">glycerol</text>
<text x="1582.4" y="991.2" font-family="'Liberation Serif', 'Times New Roman', serif" font-size="27.5" stroke="#000" stroke-width="0.45">10%</text>
<text x="1368.9" y="1034.1" font-family="'Liberation Serif', 'Times New Roman', serif" font-size="27.5" stroke="#000" stroke-width="0.45">TtASR1</text>
<text x="1475.3" y="1034.1" font-family="'Liberation Serif', 'Times New Roman', serif" font-size="27.5" stroke="#000" stroke-width="0.45">glycerol</text>
<text x="1582.4" y="1034.1" font-family="'Liberation Serif', 'Times New Roman', serif" font-size="27.5" stroke="#000" stroke-width="0.45">20%</text>
<text x="1368.9" y="1077" font-family="'Liberation Serif', 'Times New Roman', serif" font-size="27.5" stroke="#000" stroke-width="0.45">TtASR1</text>
<text x="1475.3" y="1077" font-family="'Liberation Serif', 'Times New Roman', serif" font-size="27.5" stroke="#000" stroke-width="0.45">glycerol</text>
<text x="1582.4" y="1077" font-family="'Liberation Serif', 'Times New Roman', serif" font-size="27.5" stroke="#000" stroke-width="0.45">30%</text>
<text x="1368.9" y="1119.9" font-family="'Liberation Serif', 'Times New Roman', serif" font-size="27.5" stroke="#000" stroke-width="0.45">TtASR1</text>
<text x="1475.3" y="1119.9" font-family="'Liberation Serif', 'Times New Roman', serif" font-size="27.5" stroke="#000" stroke-width="0.45">glycerol</text>
<text x="1582.4" y="1119.9" font-family="'Liberation Serif', 'Times New Roman', serif" font-size="27.5" stroke="#000" stroke-width="0.45">40%</text>
<text x="1368.9" y="1162.8" font-family="'Liberation Serif', 'Times New Roman', serif" font-size="27.5" stroke="#000" stroke-width="0.45">TtASR1</text>
<text x="1475.3" y="1162.8" font-family="'Liberation Serif', 'Times New Roman', serif" font-size="27.5" stroke="#000" stroke-width="0.45">glycerol</text>
<text x="1582.4" y="1162.8" font-family="'Liberation Serif', 'Times New Roman', serif" font-size="27.5" stroke="#000" stroke-width="0.45">50%</text>
<text x="1373.2" y="610.5" font-family="'Liberation Serif', 'Times New Roman', serif" font-weight="bold" font-size="27.5" textLength="204.5" lengthAdjust="spacingAndGlyphs">Wavelength (nm)</text>
</svg></body></html>
